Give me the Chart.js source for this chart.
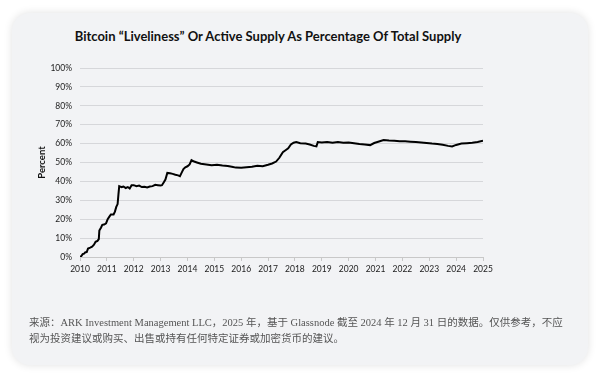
<!DOCTYPE html>
<html>
<head>
<meta charset="utf-8">
<script src="https://cdn.jsdelivr.net/npm/chart.js@4"></script>
<style>
  html, body { margin: 0; padding: 0; background: #ffffff; }
  body { width: 600px; height: 377px; position: relative; overflow: hidden; }
  .card {
    position: absolute; left: 12px; top: 13px; width: 576px; height: 352px;
    background: #f2f3f5; border-radius: 18px;
    box-shadow: 0 0 8px rgba(0,0,0,0.12);
  }
  .title {
    position: absolute; left: 0; top: 28px; width: 536px; text-align: center;
    font-family: Lato, "Open Sans", sans-serif; font-weight: bold; font-size: 13px; color: #111;
  }
  .note {
    position: absolute; left: 29px; top: 315px; width: 560px;
    font-family: "Liberation Serif", "Noto Sans CJK SC", serif; font-size: 10.5px; line-height: 16px; color: #555;
  }
  canvas { position: absolute; left: 0; top: 0; }
</style>
</head>
<body>
<div class="card"></div>
<div class="title">Bitcoin “Liveliness” Or Active Supply As Percentage Of Total Supply</div>
<canvas id="livelinessChart" width="600" height="377"></canvas>
<div class="note">来源：ARK Investment Management LLC，2025 年，基于 Glassnode 截至 2024 年 12 月 31 日的数据。仅供参考，不应<br>视为投资建议或购买、出售或持有任何特定证券或加密货币的建议。</div>
<script>
// year (decimal) and liveliness (% of supply)
const years = [
  2010.00, 2010.05, 2010.10, 2010.15, 2010.20, 2010.25, 2010.30, 2010.38, 2010.45, 2010.52,
  2010.58, 2010.65, 2010.70, 2010.72, 2010.78, 2010.83, 2010.90, 2010.97, 2011.03, 2011.10,
  2011.15, 2011.25, 2011.30, 2011.35, 2011.40, 2011.43, 2011.46, 2011.55, 2011.62, 2011.70,
  2011.78, 2011.85, 2011.92, 2012.00, 2012.10, 2012.20, 2012.30, 2012.40, 2012.50, 2012.60,
  2012.70, 2012.80, 2012.90, 2013.00, 2013.05, 2013.12, 2013.18, 2013.25, 2013.35, 2013.45,
  2013.55, 2013.65, 2013.72, 2013.78, 2013.85, 2013.92, 2014.00, 2014.08, 2014.15, 2014.25,
  2014.35, 2014.50, 2014.70, 2014.90, 2015.10, 2015.30, 2015.50, 2015.65, 2015.80, 2016.00,
  2016.20, 2016.40, 2016.60, 2016.80, 2017.00, 2017.15, 2017.30, 2017.42, 2017.55, 2017.65,
  2017.75, 2017.85, 2017.95, 2018.05, 2018.20, 2018.40, 2018.55, 2018.70, 2018.80, 2018.85,
  2019.00, 2019.20, 2019.40, 2019.60, 2019.80, 2020.00, 2020.20, 2020.40, 2020.60, 2020.80,
  2020.95, 2021.10, 2021.30, 2021.50, 2021.70, 2021.90, 2022.10, 2022.30, 2022.50, 2022.70,
  2022.90, 2023.10, 2023.30, 2023.50, 2023.70, 2023.85, 2024.00, 2024.20, 2024.40, 2024.60,
  2024.80, 2025.00
];
const liveliness = [
  0.0, 0.5, 1.5, 1.8, 2.5, 2.6, 4.5, 5.0, 5.5, 6.5,
  8.0, 8.5, 9.5, 14.0, 15.5, 17.0, 17.2, 17.8, 20.0, 21.5,
  22.5, 22.5, 24.0, 26.5, 28.0, 33.0, 37.5, 37.0, 37.3, 36.5,
  37.0, 36.2, 38.0, 38.0, 37.5, 37.8, 37.0, 37.2, 36.8, 37.3,
  37.5, 38.2, 38.0, 37.8, 38.0, 39.5, 41.0, 44.5, 44.3, 44.0,
  43.5, 43.2, 42.8, 44.5, 46.5, 47.5, 48.0, 49.0, 51.3, 50.5,
  50.0, 49.3, 49.0, 48.6, 48.8, 48.4, 48.2, 47.8, 47.3, 47.2,
  47.5, 47.8, 48.3, 48.0, 48.8, 49.5, 50.5, 52.5, 55.5, 56.5,
  57.5, 59.5, 60.5, 60.8, 60.2, 60.0, 59.5, 58.8, 58.5, 60.8,
  60.6, 60.8, 60.4, 60.9, 60.5, 60.6, 60.2, 59.8, 59.5, 59.2,
  60.3, 61.0, 61.9, 61.6, 61.5, 61.3, 61.2, 61.0, 60.8, 60.6,
  60.3, 60.0, 59.8, 59.4, 58.8, 58.5, 59.3, 60.0, 60.2, 60.4,
  60.8, 61.5
];
const yearTicks = [2010, 2011, 2012, 2013, 2014, 2015, 2016, 2017, 2018, 2019, 2020, 2021, 2022, 2023, 2024, 2025];

const points = years.map((y, i) => ({ x: y, y: liveliness[i] }));

const ctx = document.getElementById('livelinessChart').getContext('2d');
const livelinessChart = new Chart(ctx, {
    type: 'line',
    data: {
        datasets: [{
            label: 'Liveliness',
            data: points,
            borderColor: '#000000',
            borderWidth: 2,
            pointRadius: 0,
            tension: 0
        }]
    },
    options: {
        responsive: false,
        animation: false,
        layout: { padding: { left: 30, right: 117, top: 68, bottom: 0 } },
        plugins: {
            legend: { display: false },
            tooltip: { enabled: false }
        },
        scales: {
            x: {
                type: 'linear',
                min: 2010,
                max: 2025,
                afterBuildTicks: s => { s.ticks = yearTicks.map(v => ({ value: v })); },
                afterFit: s => { s.height = 120; },
                ticks: {
                    callback: v => String(v),
                    color: '#222',
                    font: { family: 'Lato', size: 8.5 },
                    padding: 3,
                    maxRotation: 0
                },
                grid: { drawOnChartArea: false, drawTicks: true, tickLength: 4, color: '#c8c8c8' },
                border: { display: true, color: '#c8c8c8' }
            },
            y: {
                min: 0,
                max: 100,
                afterFit: s => { s.width = 50; },
                ticks: {
                    stepSize: 10,
                    callback: v => v + '%',
                    color: '#222',
                    font: { family: 'Lato', size: 8.5 },
                    padding: 8
                },
                title: {
                    display: true,
                    text: 'Percent',
                    color: '#111',
                    font: { family: 'Lato', size: 9.5, weight: 'bold' },
                    padding: { top: 6, bottom: 0 }
                },
                grid: { color: '#d6d7da', drawTicks: false },
                border: { display: false }
            }
        }
    }
});
</script>
</body>
</html>
